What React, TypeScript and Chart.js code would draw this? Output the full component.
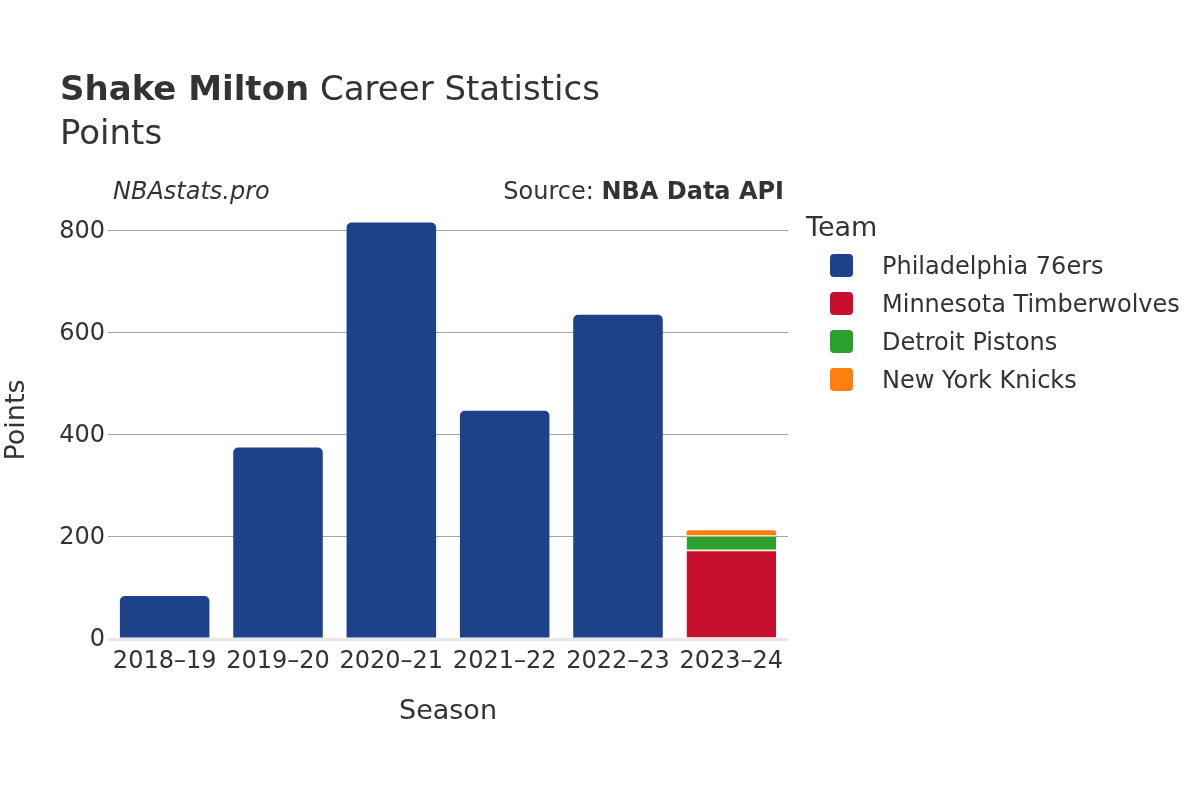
import React, { useEffect, useRef } from "react";
import { Chart, registerables } from "chart.js";

Chart.register(...registerables);

const seasons = ["2018–19", "2019–20", "2020–21", "2021–22", "2022–23", "2023–24"];
const teams = ["Philadelphia 76ers", "Minnesota Timberwolves", "Detroit Pistons", "New York Knicks"];
const teamColors = ["#1d428a", "#c8102e", "#2ca02c", "#ff7f0e"];
const phiPoints = [84, 375, 816, 447, 635, null];
const minPoints = [null, null, null, null, null, 175];
const detPoints = [null, null, null, null, null, 28];
const nykPoints = [null, null, null, null, null, 10];
const yTicks = [0, 200, 400, 600, 800];
const yMax = 858;

const FONT = "'DejaVu Sans', sans-serif";
const TEXT = "#333333";

const overlayPlugin = {
  id: "overlay",
  afterDraw(chart: any) {
    const ctx = chart.ctx as CanvasRenderingContext2D;
    ctx.save();
    ctx.fillStyle = TEXT;
    ctx.textBaseline = "alphabetic";
    ctx.textAlign = "left";
    // Title
    ctx.font = `bold 34px ${FONT}`;
    ctx.fillText("Shake Milton", 60, 100);
    const w = ctx.measureText("Shake Milton").width;
    ctx.font = `34px ${FONT}`;
    ctx.fillText(" Career Statistics", 60 + w, 100);
    ctx.fillText("Points", 60, 144);
    // annotations
    ctx.font = `italic 24px ${FONT}`;
    ctx.fillText("NBAstats.pro", 113, 199);
    ctx.textAlign = "right";
    ctx.font = `bold 24px ${FONT}`;
    ctx.fillText("NBA Data API", 784, 199);
    const bw = ctx.measureText("NBA Data API").width;
    ctx.font = `24px ${FONT}`;
    ctx.fillText("Source: ", 784 - bw, 199);
    // legend
    ctx.textAlign = "left";
    ctx.font = `27px ${FONT}`;
    ctx.fillText("Team", 806, 236);
    ctx.font = `24px ${FONT}`;
    chart.data.datasets.forEach((ds: any, i: number) => {
      const y = 254 + 38 * i;
      ctx.fillStyle = ds.backgroundColor;
      ctx.beginPath();
      (ctx as any).roundRect(830, y, 23, 23, 4);
      ctx.fill();
      ctx.fillStyle = TEXT;
      ctx.fillText(ds.label, 882, y + 20);
    });
    ctx.restore();
  },
};

export default function App() {
  const ref = useRef<HTMLCanvasElement | null>(null);
  useEffect(() => {
    if (!ref.current) return;
    const series = [phiPoints, minPoints, detPoints, nykPoints];
    const chart = new Chart(ref.current, {
      type: "bar",
      data: {
        labels: seasons,
        datasets: teams.map((t, i) => ({
          label: t,
          data: series[i],
          backgroundColor: teamColors[i],
          borderColor: "rgba(240,230,200,0.8)",
          borderWidth: i === 1 || i === 2 ? { top: 1.5 } : 0,
          borderSkipped: "start",
          borderRadius: i === 0 || i === 3 ? 5 : 0,
          barPercentage: 0.79,
          categoryPercentage: 1,
        })),
      },
      options: {
        responsive: false,
        animation: false,
        layout: { padding: { top: 201, right: 412, bottom: 0, left: 0 } },
        plugins: {
          legend: { display: false },
          title: { display: false },
          tooltip: { enabled: false },
        },
        scales: {
          x: {
            stacked: true,
            grid: { display: false },
            border: { display: false },
            ticks: { color: TEXT, font: { family: FONT, size: 24 }, padding: 0 },
            title: {
              display: true,
              text: "Season",
              color: TEXT,
              font: { family: FONT, size: 27 },
              padding: { top: 0, bottom: 72 },
            },
            afterFit: (s: any) => {
              s.height = 161;
            },
          },
          y: {
            stacked: true,
            min: 0,
            max: yMax,
            afterBuildTicks: (s: any) => {
              s.ticks = yTicks.map((v) => ({ value: v }));
            },
            grid: {
              drawTicks: false,
              color: (c: any) => (c.tick && c.tick.value === 0 ? "#e8e8e8" : "#a6a6a6"),
              lineWidth: (c: any) => (c.tick && c.tick.value === 0 ? 3 : 1),
            },
            border: { display: false },
            ticks: { color: TEXT, font: { family: FONT, size: 24 }, padding: 3, labelOffset: 1 },
            title: {
              display: true,
              text: "Points",
              color: TEXT,
              font: { family: FONT, size: 27 },
              padding: { top: 1, bottom: 0 },
            },
            afterFit: (s: any) => {
              s.width = 108;
            },
          },
        },
      },
      plugins: [overlayPlugin],
    });
    return () => chart.destroy();
  }, []);
  return (
    <div style={{ position: "absolute", left: 0, top: 0, width: 1200, height: 800, background: "#fff" }}>
      <canvas ref={ref} width={1200} height={800} style={{ width: 1200, height: 800 }} />
    </div>
  );
}
